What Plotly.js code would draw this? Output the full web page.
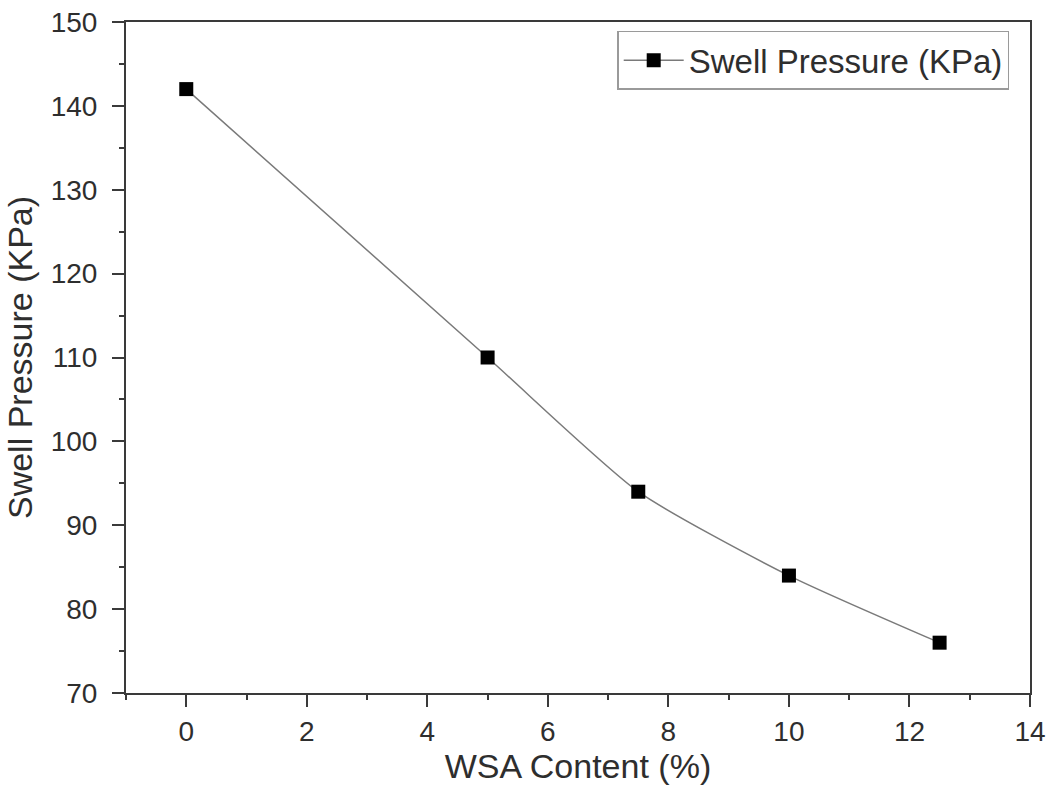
<!DOCTYPE html>
<html>
<head>
<meta charset="utf-8">
<script src="https://cdn.plot.ly/plotly-3.0.1.min.js"></script>
<style>html,body{margin:0;padding:0;background:#fff;}#chart{width:1055px;height:790px;}</style>
</head>
<body>
<div id="chart"></div>
<script>
// WSA content (%) and measured swell pressure (kPa)
const wsaContent = [0, 5, 7.5, 10, 12.5];
const swellPressure = [142, 110, 94, 84, 76];
const seriesName = 'Swell Pressure (KPa)';

const axisColor = '#3a3a3a';
const textColor = '#2e2e2e';
const fontFamily = 'Liberation Sans, Arial, sans-serif';

const trace = {
  x: wsaContent,
  y: swellPressure,
  name: seriesName,
  type: 'scatter',
  mode: 'lines+markers',
  line: {color: '#7a7a7a', width: 1.5, shape: 'spline', smoothing: 0.6},
  marker: {symbol: 'square', size: 14, color: '#000'}
};

const layout = {
  width: 1055,
  height: 790,
  margin: {l: 126, r: 25, t: 22, b: 97},
  paper_bgcolor: '#fff',
  plot_bgcolor: '#fff',
  font: {family: fontFamily, color: textColor},
  showlegend: true,
  legend: {
    x: 0.977, y: 0.987, xanchor: 'right', yanchor: 'top',
    bordercolor: '#9a9a9a', borderwidth: 1.5, bgcolor: '#fff',
    font: {size: 33, color: textColor, family: fontFamily},
    itemwidth: 60
  },
  xaxis: {
    range: [-1, 14],
    dtick: 2, tick0: 0,
    ticks: 'outside', ticklen: 12, tickwidth: 2, tickcolor: axisColor,
    ticklabelstandoff: 0,
    minor: {dtick: 1, ticks: 'outside', ticklen: 5, tickwidth: 2, tickcolor: axisColor},
    showline: true, linecolor: axisColor, linewidth: 2, mirror: true,
    showgrid: false, zeroline: false,
    tickfont: {size: 28, color: textColor},
    title: {text: 'WSA Content (%)', font: {size: 34, color: textColor}, standoff: 8}
  },
  yaxis: {
    range: [70, 150],
    dtick: 10, tick0: 70,
    ticks: 'outside', ticklen: 12, tickwidth: 2, tickcolor: axisColor,
    ticklabelstandoff: 9,
    minor: {dtick: 5, ticks: 'outside', ticklen: 5, tickwidth: 2, tickcolor: axisColor},
    showline: true, linecolor: axisColor, linewidth: 2, mirror: true,
    showgrid: false, zeroline: false,
    tickfont: {size: 28, color: textColor},
    title: {text: 'Swell Pressure (KPa)', font: {size: 34, color: textColor}, standoff: 8}
  }
};

Plotly.newPlot('chart', [trace], layout, {displayModeBar: false, staticPlot: true});
</script>
</body>
</html>
